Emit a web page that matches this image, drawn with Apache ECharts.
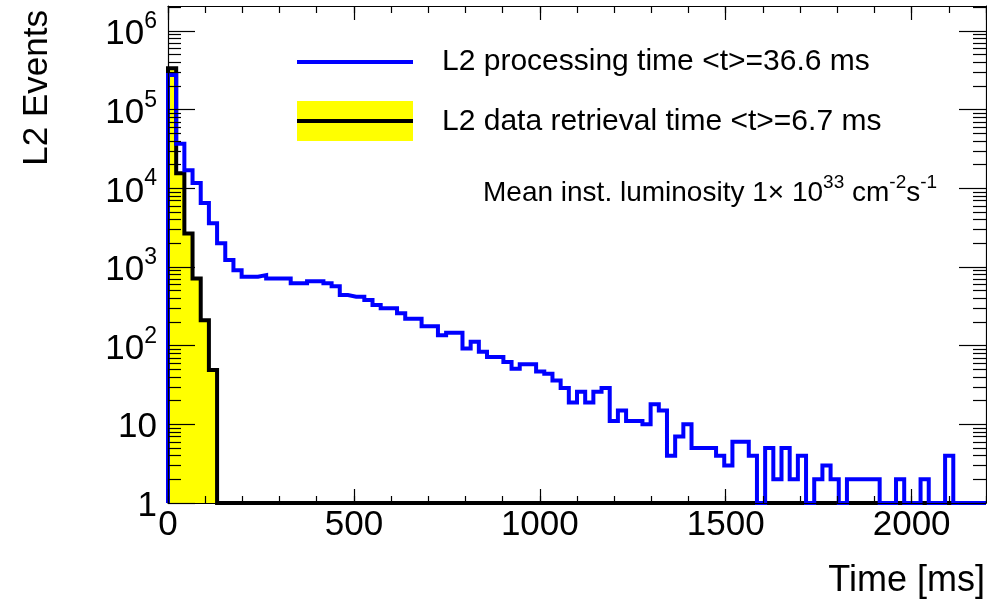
<!DOCTYPE html>
<html><head><meta charset="utf-8">
<script src="https://cdn.jsdelivr.net/npm/echarts@6/dist/echarts.min.js"></script>
<style>html,body{margin:0;padding:0;background:#fff}#c{width:987px;height:604px}</style>
</head><body><div id="c"></div>
<script>
// ---- data (histograms, 22 ms bins from 0 to 2200 ms) ----
const binWidthMs = 22;
const processingCounts = [
  275000, 37000, 17000, 11700, 6500, 3600, 2000, 1230, 910, 751,
  751, 789, 716, 716, 716, 620, 620, 660, 660, 620,
  570, 440, 420, 420, 380, 328, 300, 300, 258, 220,
  220, 176, 176, 136, 146, 146, 92, 112, 84, 72,
  72, 62, 51, 58, 58, 47, 44, 36, 29, 19,
  26, 19, 26, 29, 11, 15, 11, 11, 10, 18,
  15, 4, 7, 10, 5, 5, 5, 4, 3, 6,
  6, 4, 1, 5, 2, 5, 2, 4, 1, 2,
  3, 2, 1, 2, 2, 2, 2, 1, 1, 2,
  1, 1, 2, 1, 1, 4, 1, 1, 1, 1
];
const retrievalCounts = [
  337000, 15500, 2670, 716, 211, 49, 1, 1, 1, 1,
  1, 1, 1, 1, 1, 1, 1, 1, 1, 1,
  1, 1, 1, 1, 1, 1, 1, 1, 1, 1,
  1, 1, 1, 1, 1, 1, 1, 1, 1, 1,
  1, 1, 1, 1, 1, 1, 1, 1, 1, 1,
  1, 1, 1, 1, 1, 1, 1, 1, 1, 1,
  1, 1, 1, 1, 1, 1, 1, 1, 1, 1,
  1, 1, 1, 1, 1, 1, 1, 1, 1, 1,
  1, 1, 1, 1, 1, 1, 1, 1, 1, 1,
  1, 1, 1, 1, 1, 1, 1, 1, 1, 1
];
const xMin = 0, xMax = 2200;
const yMin = 1, yMax = 2.08e6;
const xMajorStep = 500, xMinorStep = 100;
const yMajorTicks = [1, 10, 100, 1000, 10000, 100000, 1000000];
const seriesNames = ['L2 processing time <t>=36.6 ms', 'L2 data retrieval time <t>=6.7 ms'];
const xTitle = 'Time [ms]';
const yTitle = 'L2 Events';

// ---- build step outlines from bins ----
function histOutline(counts) {
  const pts = [[0, yMin]];
  counts.forEach((c, i) => pts.push([i * binWidthMs, c]));
  pts.push([counts.length * binWidthMs, counts[counts.length - 1]]);
  pts.push([counts.length * binWidthMs, yMin]);
  return pts;
}
const yMinorTicks = [];
for (let d = 0; d <= 6; d++) for (let m = 2; m <= 9; m++) {
  const v = m * Math.pow(10, d);
  if (v < yMax) yMinorTicks.push(v);
}

const font = 'Liberation Sans, Arial, Helvetica, sans-serif';
const tickStyle = {color: '#000', width: 1.2};
const chart = echarts.init(document.getElementById('c'), null, {renderer: 'canvas'});

function xAx(pos, step, len, labels, line) {
  return {
    type: 'value', min: xMin, max: xMax, interval: step, position: pos, z: 10,
    axisLine: {show: line, onZero: false, lineStyle: tickStyle},
    axisTick: {show: true, inside: true, length: len, lineStyle: tickStyle},
    axisLabel: {show: labels, margin: 5, color: '#000', fontSize: 35, fontFamily: font,
      showMaxLabel: false, formatter: v => String(v)},
    splitLine: {show: false}
  };
}
function yAx(pos, minor, labels, line) {
  const ax = {
    type: 'log', logBase: 10, min: yMin, max: yMax, position: pos, z: 10,
    axisLine: {show: line, onZero: false, lineStyle: tickStyle},
    axisTick: {show: true, inside: true, length: minor ? 13 : 27, lineStyle: tickStyle,
      customValues: minor ? yMinorTicks : yMajorTicks},
    axisLabel: {show: false},
    splitLine: {show: false}
  };
  if (labels) {
    ax.axisLabel = {
      show: true, margin: 11, color: '#000', fontFamily: font,
      customValues: yMajorTicks,
      formatter: function (v) {
        const p = Math.round(Math.log10(v));
        if (Math.abs(Math.log10(v) - p) > 1e-6) return '';
        if (p === 0) return '{b|1}';
        if (p === 1) return '{b|10}';
        return '{b|10}{s|' + p + '}';
      },
      rich: {
        b: {fontSize: 35, fontFamily: font, color: '#000', lineHeight: 42, verticalAlign: 'bottom'},
        s: {fontSize: 23, fontFamily: font, color: '#000', lineHeight: 23, verticalAlign: 'top'}
      }
    };
  }
  return ax;
}

const option = {
  animation: false,
  backgroundColor: '#fff',
  grid: {left: 168, top: 6, width: 818, height: 497, containLabel: false},
  xAxis: [
    xAx('bottom', xMajorStep, 14, true, true),
    xAx('bottom', xMinorStep, 7, false, false),
    xAx('top', xMajorStep, 14, false, true),
    xAx('top', xMinorStep, 7, false, false)
  ],
  yAxis: [
    yAx('left', false, true, true),
    yAx('left', true, false, false),
    yAx('right', false, false, true),
    yAx('right', true, false, false)
  ],
  series: [
    {
      type: 'line', name: seriesNames[1], xAxisIndex: 0, yAxisIndex: 0,
      data: histOutline(retrievalCounts), step: 'end', symbol: 'none', clip: false, z: 2,
      lineStyle: {color: '#000', width: 4, join: 'miter'},
      areaStyle: {color: '#ffff00', opacity: 1, origin: 'start'}
    },
    {
      type: 'line', name: seriesNames[0], xAxisIndex: 0, yAxisIndex: 0,
      data: histOutline(processingCounts), step: 'end', symbol: 'none', clip: false, z: 3,
      lineStyle: {color: '#0000ff', width: 4, join: 'miter'}
    }
  ],
  graphic: [
    {type: 'line', shape: {x1: 297, y1: 62, x2: 413, y2: 62}, style: {stroke: '#0000ff', lineWidth: 4}},
    {type: 'text', x: 442, y: 62, style: {text: seriesNames[0], fontSize: 30, fontFamily: font, fill: '#000', verticalAlign: 'middle'}},
    {type: 'rect', shape: {x: 297, y: 101, width: 116, height: 40}, style: {fill: '#ffff00'}},
    {type: 'line', shape: {x1: 297, y1: 121, x2: 413, y2: 121}, style: {stroke: '#000', lineWidth: 4}},
    {type: 'text', x: 442, y: 122, style: {text: seriesNames[1], fontSize: 30, fontFamily: font, fill: '#000', verticalAlign: 'middle'}},
    {type: 'text', x: 483, y: 190, style: {
      text: '{n|Mean inst. luminosity 1\u00d7 10}{s|33}{n| cm}{s|-2}{n|s}{s|-1}',
      verticalAlign: 'middle', fontFamily: font,
      rich: {
        n: {fontSize: 28, fontFamily: font, fill: '#000', color: '#000', lineHeight: 34, verticalAlign: 'bottom'},
        s: {fontSize: 19, fontFamily: font, fill: '#000', color: '#000', lineHeight: 19, verticalAlign: 'top'}
      }}},
    {type: 'text', x: 985, y: 581, style: {text: xTitle, fontSize: 36, fontFamily: font, fill: '#000', align: 'right', verticalAlign: 'middle'}},
    {type: 'text', x: 37, y: 10, rotation: Math.PI / 2, style: {text: yTitle, fontSize: 35, fontFamily: font, fill: '#000', align: 'right', verticalAlign: 'middle'}}
  ]
};
chart.setOption(option);
</script>
</body></html>
